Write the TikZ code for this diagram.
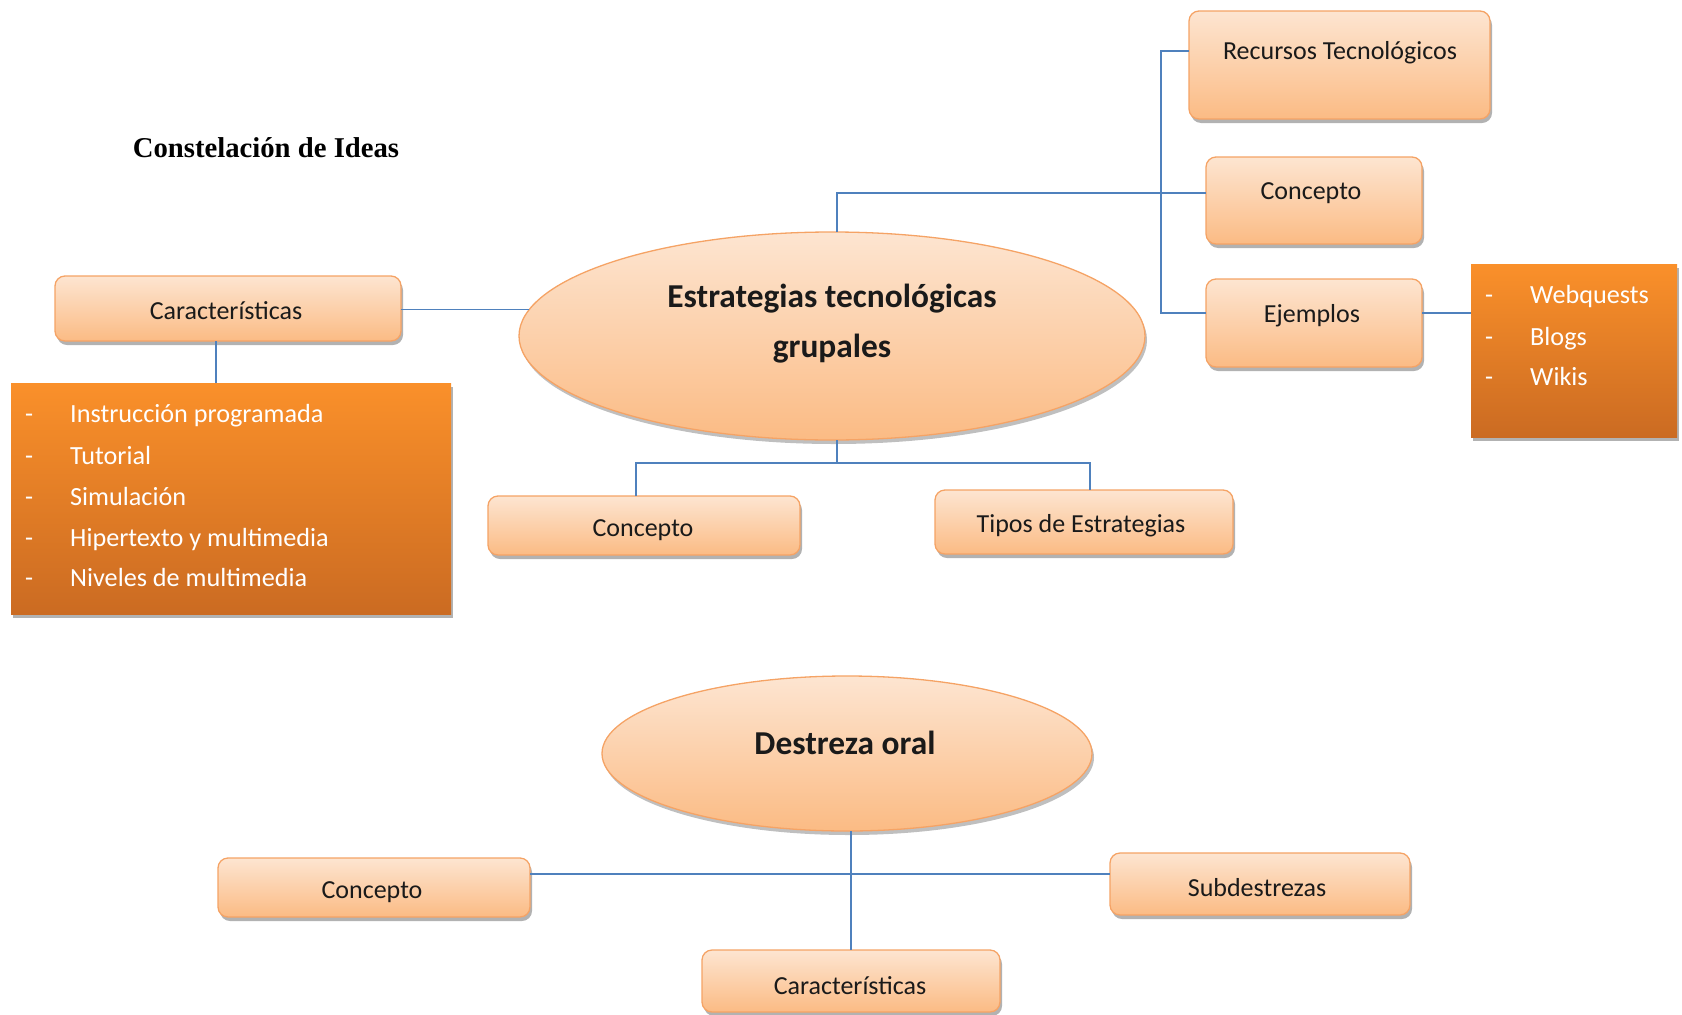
\documentclass[tikz,border=0pt]{standalone}
\usepackage{fontspec}
\setmainfont{Carlito}
\newfontfamily\titlefont{Liberation Serif}
\usetikzlibrary{shapes.geometric,shadows}
\definecolor{boxtop}{HTML}{FDE5D1}
\definecolor{boxbot}{HTML}{FBBB84}
\definecolor{boxline}{HTML}{F5A365}
\definecolor{ortop}{HTML}{FA902A}
\definecolor{orbot}{HTML}{CB6B22}
\definecolor{conncol}{HTML}{4F81BD}
\definecolor{txt}{HTML}{1A1A1A}
\begin{document}
\begin{tikzpicture}[x=1pt,y=-1pt,
  pbox/.style={draw=boxline, line width=1.3pt, rounded corners=10pt, top color=boxtop, bottom color=boxbot,
    drop shadow={shadow xshift=2pt, shadow yshift=-4pt, opacity=0.3, fill=black}, inner sep=0pt, outer sep=0pt},
  pell/.style={ellipse, draw=boxline, line width=1.3pt, top color=boxtop, bottom color=boxbot,
    drop shadow={shadow xshift=2pt, shadow yshift=-4pt, opacity=0.25, fill=black}, inner sep=0pt, outer sep=0pt},
  obox/.style={top color=ortop, bottom color=orbot,
    drop shadow={shadow xshift=2pt, shadow yshift=-4pt, opacity=0.3, fill=black}, inner sep=0pt, outer sep=0pt},
  btext/.style={font=\fontsize{26}{31}\selectfont, text=txt, yshift=-2.5pt},
  etext/.style={font=\bfseries\fontsize{33.4}{50}\selectfont, text=txt, align=center, yshift=-3pt},
  ltext/.style={font=\fontsize{26.2}{31}\selectfont, text=white, anchor=west, text height=17pt, text depth=5pt, inner sep=0pt, yshift=-2pt},
  cline/.style={draw=conncol, line width=1.5pt}]
\useasboundingbox (0,0) rectangle (1682,1015);

% title
\node[font=\titlefont\bfseries\fontsize{28.7}{34}\selectfont, text=black] (title) at (266,148) {Constelación de Ideas};

% top-left
\node[pbox, minimum width=346pt, minimum height=65pt] (car) at (228,308.5) {};
\node[btext] (cart) at (226,308.5) {Características};
\node[obox, minimum width=440pt, minimum height=231pt] (ob1) at (231,498.5) {};
\foreach \yy/\tt [count=\i] in {414/Instrucción programada, 456/Tutorial, 497/Simulación, 538/Hipertexto y multimedia, 578/Niveles de multimedia}{
  \node[ltext] (d1\i) at (25,\yy) {-};
  \node[ltext] (l1\i) at (70,\yy) {\tt};
}

% main ellipse
\node[pell, minimum width=626pt, minimum height=208pt] (e1) at (832,336) {};
\node[etext] (e1t) at (832,321) {Estrategias tecnológicas\\grupales};

% right column
\node[pbox, minimum width=301pt, minimum height=108pt] (rec) at (1339.5,65) {};
\node[btext] (rect) at (1340,50) {Recursos Tecnológicos};
\node[pbox, minimum width=216pt, minimum height=87pt] (cr) at (1314,200.5) {};
\node[btext] (crt) at (1311,191) {Concepto};
\node[pbox, minimum width=216pt, minimum height=88pt] (ej) at (1314,323) {};
\node[btext] (ejt) at (1312,313) {Ejemplos};
\node[obox, minimum width=206pt, minimum height=173pt] (ob2) at (1574,350.5) {};
\foreach \yy/\tt [count=\i] in {295/Webquests, 337/Blogs, 377/Wikis}{
  \node[ltext] (d2\i) at (1485,\yy) {-};
  \node[ltext] (l2\i) at (1530,\yy) {\tt};
}

% below main ellipse
\node[pbox, minimum width=312pt, minimum height=59pt] (conc2) at (644,525.5) {};
\node[btext] (conc2t) at (643,528) {Concepto};
\node[pbox, minimum width=298pt, minimum height=64pt] (tipos) at (1084,522) {};
\node[btext] (tipost) at (1081,523) {Tipos de Estrategias};

% second ellipse
\node[pell, minimum width=490pt, minimum height=155pt] (e2) at (847,753.5) {};
\node[etext] (e2t) at (845,740) {Destreza oral};
\node[pbox, minimum width=312pt, minimum height=59pt] (conc3) at (374,887.5) {};
\node[btext] (conc3t) at (372,890) {Concepto};
\node[pbox, minimum width=300pt, minimum height=62pt] (sub) at (1260,884) {};
\node[btext] (subt) at (1257,885) {Subdestrezas};
\node[pbox, minimum width=298pt, minimum height=62pt] (car2) at (851,981) {};
\node[btext] (car2t) at (850,983) {Características};

% connectors
\draw[cline] (e1.175) -- (e1.175 -| car.east);
\draw[cline] ([xshift=-12pt]car.south) -- ([xshift=-12pt]car.south |- ob1.north);
\draw[cline] ([xshift=5pt]e1.north) |- ([yshift=7.5pt]cr.west);
\coordinate (jb) at (1161,313);
\draw[cline] ([yshift=14pt]rec.west) -| (jb) -- ([yshift=10pt]ej.west);
\draw[cline] ([yshift=10pt]ej.east) -- ([yshift=10pt]ej.east -| ob2.west);
\draw[cline] ([xshift=5pt]e1.south) -- ++(0,23) coordinate (jm);
\draw[cline] ([xshift=-8pt]conc2.north) |- (jm) -| ([xshift=6pt]tipos.north);
\draw[cline] ([yshift=13.5pt]conc3.east) -- ([yshift=13.5pt]conc3.east -| sub.west);
\draw[cline] (car2.north |- e2.south) -- (car2.north);
\end{tikzpicture}
\end{document}
